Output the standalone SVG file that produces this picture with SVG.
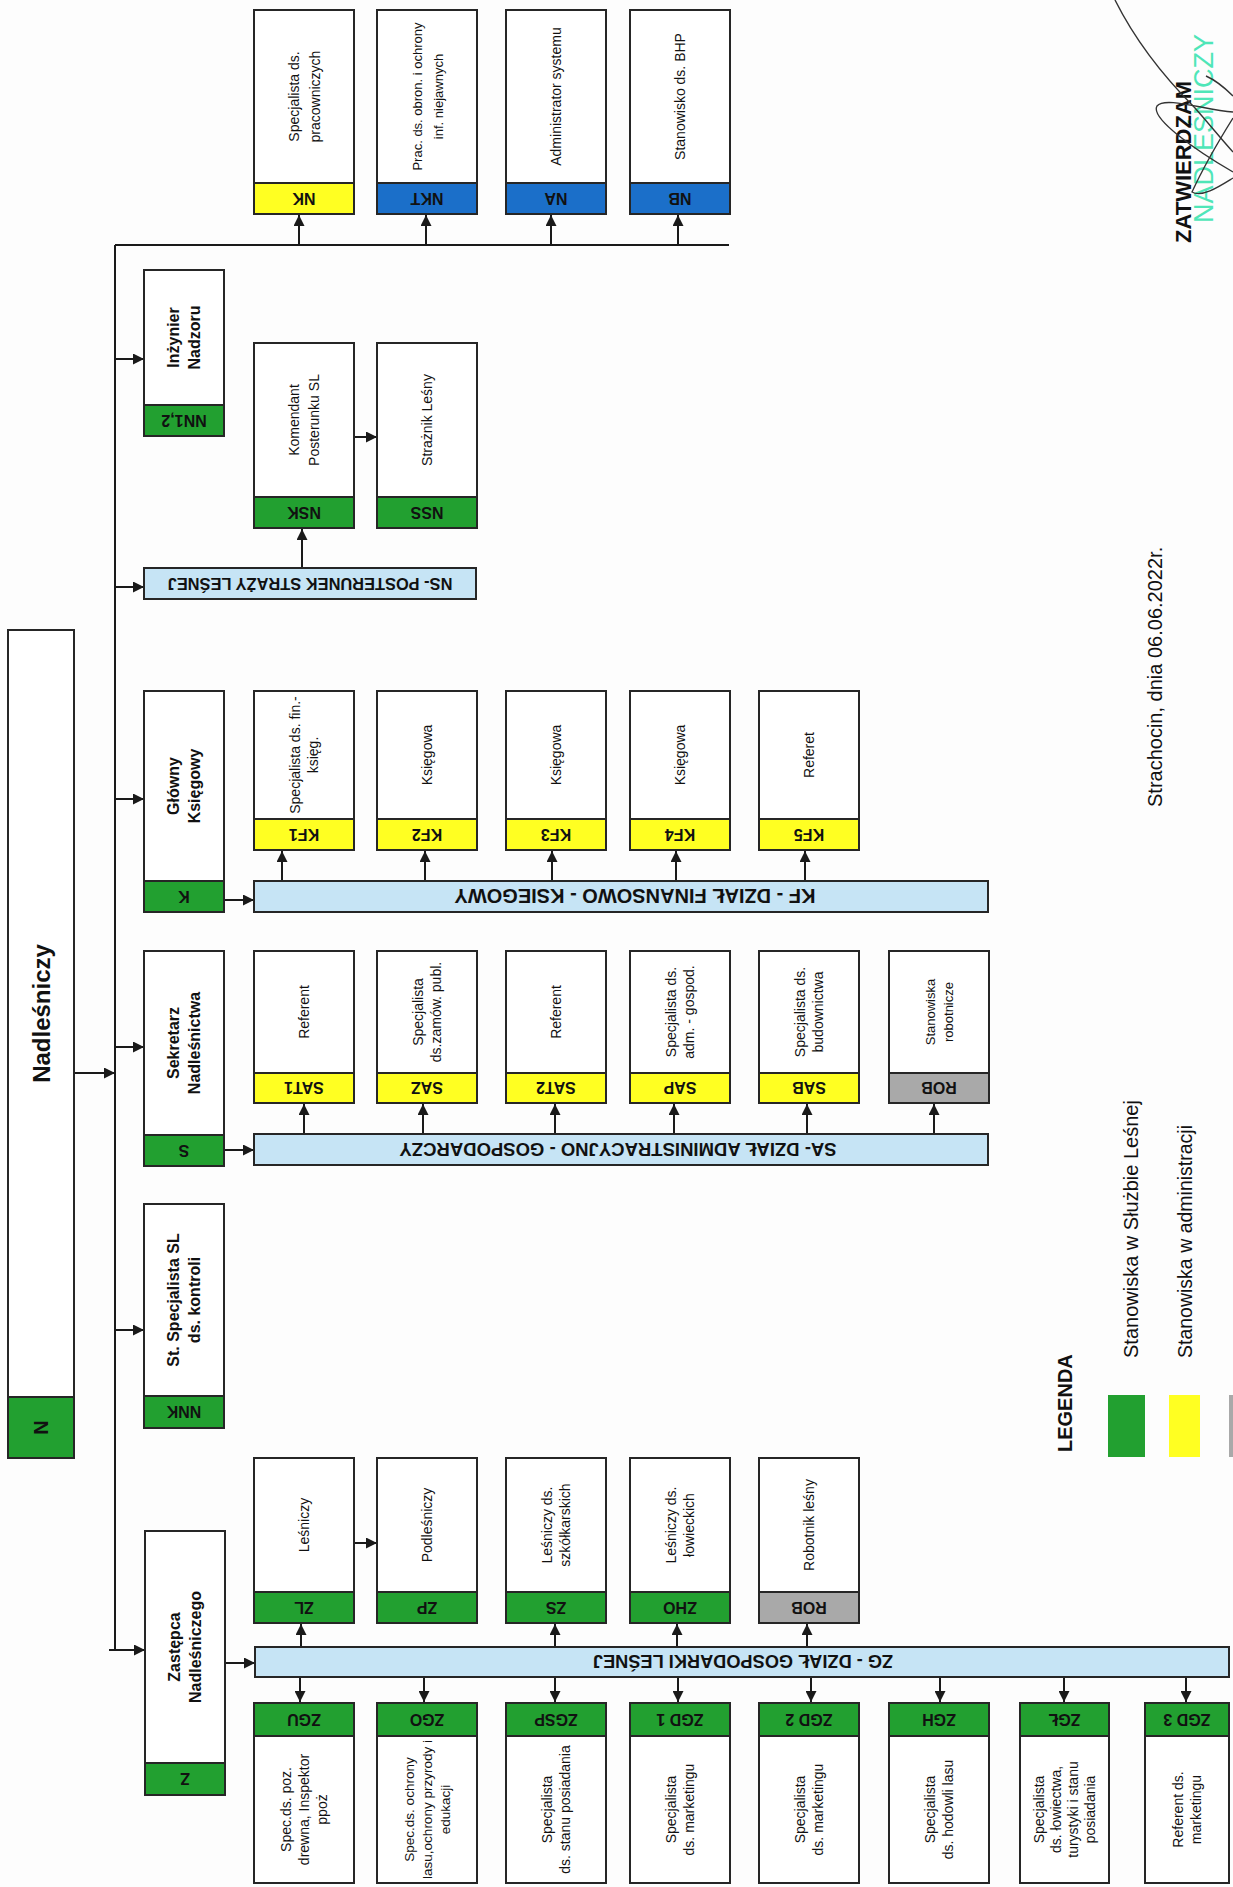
<svg xmlns="http://www.w3.org/2000/svg" width="1233" height="1887" viewBox="0 0 1233 1887">
<style>
text{font-family:"Liberation Sans",Arial,sans-serif;fill:#111}
.t{font-size:14px;text-anchor:middle}
.h{font-size:16px;font-weight:bold;text-anchor:middle}
.c{font-size:16px;font-weight:bold;text-anchor:middle}
.d{font-weight:bold;text-anchor:middle}
.box{fill:#fff;stroke:#262626;stroke-width:2}
.gn{fill:#22a030;stroke:#262626;stroke-width:2}
.yl{fill:#ffff22;stroke:#262626;stroke-width:2}
.bl{fill:#1b6fc9;stroke:#262626;stroke-width:2}
.gr{fill:#a9a9a9;stroke:#262626;stroke-width:2}
.bar{fill:#c6e4f5;stroke:#262626;stroke-width:2}
.ln{stroke:#1a1a1a;stroke-width:2;fill:none}
.ar{stroke:#1a1a1a;stroke-width:2;fill:none;marker-end:url(#ah)}
.sig{stroke:#333;stroke-width:1.4;fill:none}
</style>
<defs>
<marker id="ah" viewBox="0 0 10 10" refX="10" refY="5" markerWidth="11" markerHeight="11" markerUnits="userSpaceOnUse" orient="auto"><path d="M0,0 L10,5 L0,10 z" fill="#1a1a1a"/></marker>
</defs>
<rect x="0" y="0" width="1233" height="1887" fill="#fdfdfd"/>

<g id="connectors">
<path class="ln" d="M115,245 V1650"/>
<path class="ln" d="M115,245 H729"/>
<path class="ar" d="M299,245 V215"/>
<path class="ar" d="M426,245 V215"/>
<path class="ar" d="M551,245 V215"/>
<path class="ar" d="M678,245 V215"/>
<path class="ar" d="M74,1073 H115"/>
<path class="ar" d="M115,359 H144"/>
<path class="ar" d="M115,587 H144"/>
<path class="ar" d="M115,799 H144"/>
<path class="ar" d="M115,1047 H144"/>
<path class="ar" d="M115,1330 H144"/>
<path class="ar" d="M109,1650 H145"/>
<path class="ar" d="M302,568 V529"/>
<path class="ar" d="M354,437 H377"/>
<path class="ar" d="M224,900 H254"/>
<path class="ar" d="M282,881 V851"/>
<path class="ar" d="M425,881 V851"/>
<path class="ar" d="M552,881 V851"/>
<path class="ar" d="M676,881 V851"/>
<path class="ar" d="M805,881 V851"/>
<path class="ar" d="M224,1150 H254"/>
<path class="ar" d="M304,1134 V1104"/>
<path class="ar" d="M423,1134 V1104"/>
<path class="ar" d="M555,1134 V1104"/>
<path class="ar" d="M674,1134 V1104"/>
<path class="ar" d="M807,1134 V1104"/>
<path class="ar" d="M934,1134 V1104"/>
<path class="ar" d="M225,1663 H255"/>
<path class="ar" d="M354,1543 H377"/>
<path class="ar" d="M301,1647 V1624"/>
<path class="ar" d="M555,1647 V1624"/>
<path class="ar" d="M677,1647 V1624"/>
<path class="ar" d="M807,1647 V1624"/>
<path class="ar" d="M300,1677 V1702"/>
<path class="ar" d="M424,1677 V1702"/>
<path class="ar" d="M555,1677 V1702"/>
<path class="ar" d="M678,1677 V1702"/>
<path class="ar" d="M811,1677 V1702"/>
<path class="ar" d="M940,1677 V1702"/>
<path class="ar" d="M1064,1677 V1702"/>
<path class="ar" d="M1186,1677 V1702"/>
</g>

<!-- Nadleśniczy -->
<g id="N">
<rect class="box" x="8" y="630" width="66" height="828"/>
<rect class="gn" x="8" y="1397" width="66" height="61"/>
<text class="d" style="font-size:24px" x="41" y="1022.1" transform="rotate(-90 41 1013.5)">Nadleśniczy</text>
<text class="d" style="font-size:20px" x="41" y="1434.7" transform="rotate(-90 41 1427.5)">N</text>
</g>

<!-- Top row -->
<g id="NK">
<rect class="box" x="254" y="10" width="100" height="204"/>
<rect class="yl" x="254" y="183" width="100" height="31"/>
<text class="c" x="304" y="204.3" transform="rotate(180 304 198.5)">NK</text>
<text class="t" transform="rotate(-90 304 96.5)"><tspan x="304" y="91">Specjalista ds.</tspan><tspan x="304" y="112">pracowniczych</tspan></text>
</g>
<g id="NKT">
<rect class="box" x="377" y="10" width="100" height="204"/>
<rect class="bl" x="377" y="183" width="100" height="31"/>
<text class="c" x="427" y="204.3" transform="rotate(180 427 198.5)">NKT</text>
<text class="t" style="font-size:13px" transform="rotate(-90 427 96.5)"><tspan x="427" y="91">Prac. ds. obron. i ochrony</tspan><tspan x="427" y="112">inf. niejawnych</tspan></text>
</g>
<g id="NA">
<rect class="box" x="506" y="10" width="100" height="204"/>
<rect class="bl" x="506" y="183" width="100" height="31"/>
<text class="c" x="556" y="204.3" transform="rotate(180 556 198.5)">NA</text>
<text class="t" x="556" y="101.5" transform="rotate(-90 556 96.5)">Administrator systemu</text>
</g>
<g id="NB">
<rect class="box" x="630" y="10" width="100" height="204"/>
<rect class="bl" x="630" y="183" width="100" height="31"/>
<text class="c" x="680" y="204.3" transform="rotate(180 680 198.5)">NB</text>
<text class="t" x="680" y="101.5" transform="rotate(-90 680 96.5)">Stanowisko ds. BHP</text>
</g>

<!-- Inżynier Nadzoru -->
<g id="NN">
<rect class="box" x="144" y="270" width="80" height="166"/>
<rect class="gn" x="144" y="405" width="80" height="31"/>
<text class="c" x="184" y="426.3" transform="rotate(180 184 420.5)">NN1,2</text>
<text class="h" transform="rotate(-90 184 337.5)"><tspan x="184" y="332.8">Inżynier</tspan><tspan x="184" y="353.8">Nadzoru</tspan></text>
</g>

<!-- NS -->
<g id="NSK">
<rect class="box" x="254" y="343" width="100" height="185"/>
<rect class="gn" x="254" y="497" width="100" height="31"/>
<text class="c" x="304" y="518.3" transform="rotate(180 304 512.5)">NSK</text>
<text class="t" transform="rotate(-90 304 420)"><tspan x="304" y="415">Komendant</tspan><tspan x="304" y="435">Posterunku SL</tspan></text>
</g>
<g id="NSS">
<rect class="box" x="377" y="343" width="100" height="185"/>
<rect class="gn" x="377" y="497" width="100" height="31"/>
<text class="c" x="427" y="518.3" transform="rotate(180 427 512.5)">NSS</text>
<text class="t" x="427" y="425" transform="rotate(-90 427 420)">Strażnik Leśny</text>
</g>
<g id="NS">
<rect class="bar" x="144" y="568" width="332" height="31"/>
<text class="d" style="font-size:16.4px" x="310" y="589.4" transform="rotate(180 310 583.5)">NS- POSTERUNEK STRAŻY LEŚNEJ</text>
</g>

<!-- K -->
<g id="K">
<rect class="box" x="144" y="691" width="80" height="221"/>
<rect class="gn" x="144" y="881" width="80" height="31"/>
<text class="c" x="184" y="902.3" transform="rotate(180 184 896.5)">K</text>
<text class="h" transform="rotate(-90 184 786)"><tspan x="184" y="781.3">Główny</tspan><tspan x="184" y="802.3">Księgowy</tspan></text>
</g>
<g id="KF1">
<rect class="box" x="254" y="691" width="100" height="159"/>
<rect class="yl" x="254" y="819" width="100" height="31"/>
<text class="c" x="304" y="840.3" transform="rotate(180 304 834.5)">KF1</text>
<text class="t" transform="rotate(-90 304 755)"><tspan x="304" y="751">Specjalista ds. fin.-</tspan><tspan x="304" y="769">księg.</tspan></text>
</g>
<g id="KF2">
<rect class="box" x="377" y="691" width="100" height="159"/>
<rect class="yl" x="377" y="819" width="100" height="31"/>
<text class="c" x="427" y="840.3" transform="rotate(180 427 834.5)">KF2</text>
<text class="t" x="427" y="760" transform="rotate(-90 427 755)">Księgowa</text>
</g>
<g id="KF3">
<rect class="box" x="506" y="691" width="100" height="159"/>
<rect class="yl" x="506" y="819" width="100" height="31"/>
<text class="c" x="556" y="840.3" transform="rotate(180 556 834.5)">KF3</text>
<text class="t" x="556" y="760" transform="rotate(-90 556 755)">Księgowa</text>
</g>
<g id="KF4">
<rect class="box" x="630" y="691" width="100" height="159"/>
<rect class="yl" x="630" y="819" width="100" height="31"/>
<text class="c" x="680" y="840.3" transform="rotate(180 680 834.5)">KF4</text>
<text class="t" x="680" y="760" transform="rotate(-90 680 755)">Księgowa</text>
</g>
<g id="KF5">
<rect class="box" x="759" y="691" width="100" height="159"/>
<rect class="yl" x="759" y="819" width="100" height="31"/>
<text class="c" x="809" y="840.3" transform="rotate(180 809 834.5)">KF5</text>
<text class="t" x="809" y="760" transform="rotate(-90 809 755)">Referet</text>
</g>
<g id="KF">
<rect class="bar" x="254" y="881" width="734" height="31"/>
<text class="d" style="font-size:20px" x="635" y="903.7" transform="rotate(180 635 896.5)">KF - DZIAŁ FINANSOWO - KSIEGOWY</text>
</g>

<!-- S -->
<g id="S">
<rect class="box" x="144" y="951" width="80" height="215"/>
<rect class="gn" x="144" y="1135" width="80" height="31"/>
<text class="c" x="184" y="1156.3" transform="rotate(180 184 1150.5)">S</text>
<text class="h" transform="rotate(-90 184 1043)"><tspan x="184" y="1038.3">Sekretarz</tspan><tspan x="184" y="1059.3">Nadleśnictwa</tspan></text>
</g>
<g id="SAT1">
<rect class="box" x="254" y="951" width="100" height="152"/>
<rect class="yl" x="254" y="1073" width="100" height="30"/>
<text class="c" x="304" y="1093.8" transform="rotate(180 304 1088)">SAT1</text>
<text class="t" x="304" y="1017" transform="rotate(-90 304 1012)">Referent</text>
</g>
<g id="SAZ">
<rect class="box" x="377" y="951" width="100" height="152"/>
<rect class="yl" x="377" y="1073" width="100" height="30"/>
<text class="c" x="427" y="1093.8" transform="rotate(180 427 1088)">SAZ</text>
<text class="t" transform="rotate(-90 427 1012)"><tspan x="427" y="1008">Specjalista</tspan><tspan x="427" y="1026">ds.zamów. publ.</tspan></text>
</g>
<g id="SAT2">
<rect class="box" x="506" y="951" width="100" height="152"/>
<rect class="yl" x="506" y="1073" width="100" height="30"/>
<text class="c" x="556" y="1093.8" transform="rotate(180 556 1088)">SAT2</text>
<text class="t" x="556" y="1017" transform="rotate(-90 556 1012)">Referent</text>
</g>
<g id="SAP">
<rect class="box" x="630" y="951" width="100" height="152"/>
<rect class="yl" x="630" y="1073" width="100" height="30"/>
<text class="c" x="680" y="1093.8" transform="rotate(180 680 1088)">SAP</text>
<text class="t" transform="rotate(-90 680 1012)"><tspan x="680" y="1008">Specjalista ds.</tspan><tspan x="680" y="1026">adm. - gospod.</tspan></text>
</g>
<g id="SAB">
<rect class="box" x="759" y="951" width="100" height="152"/>
<rect class="yl" x="759" y="1073" width="100" height="30"/>
<text class="c" x="809" y="1093.8" transform="rotate(180 809 1088)">SAB</text>
<text class="t" transform="rotate(-90 809 1012)"><tspan x="809" y="1008">Specjalista ds.</tspan><tspan x="809" y="1026">budownictwa</tspan></text>
</g>
<g id="SROB">
<rect class="box" x="889" y="951" width="100" height="152"/>
<rect class="gr" x="889" y="1073" width="100" height="30"/>
<text class="c" x="939" y="1093.8" transform="rotate(180 939 1088)">ROB</text>
<text class="t" style="font-size:13px" transform="rotate(-90 939 1012)"><tspan x="939" y="1008">Stanowiska</tspan><tspan x="939" y="1026">robotnicze</tspan></text>
</g>
<g id="SA">
<rect class="bar" x="254" y="1134" width="734" height="31"/>
<text class="d" style="font-size:18.5px" x="618" y="1156.2" transform="rotate(180 618 1149.5)">SA- DZIAŁ ADMINISTRACYJNO - GOSPODARCZY</text>
</g>

<!-- NNK -->
<g id="NNK">
<rect class="box" x="144" y="1204" width="80" height="224"/>
<rect class="gn" x="144" y="1396" width="80" height="32"/>
<text class="c" x="184" y="1417.8" transform="rotate(180 184 1412)">NNK</text>
<text class="h" transform="rotate(-90 184 1300)"><tspan x="184" y="1295.3">St. Specjalista SL</tspan><tspan x="184" y="1316.3">ds. kontroli</tspan></text>
</g>

<!-- Z -->
<g id="Z">
<rect class="box" x="145" y="1531" width="80" height="264"/>
<rect class="gn" x="145" y="1763" width="80" height="32"/>
<text class="c" x="185" y="1784.8" transform="rotate(180 185 1779)">Z</text>
<text class="h" transform="rotate(-90 185 1647)"><tspan x="185" y="1642.3">Zastępca</tspan><tspan x="185" y="1663.3">Nadleśniczego</tspan></text>
</g>
<g id="ZL">
<rect class="box" x="254" y="1458" width="100" height="165"/>
<rect class="gn" x="254" y="1592" width="100" height="31"/>
<text class="c" x="304" y="1613.3" transform="rotate(180 304 1607.5)">ZL</text>
<text class="t" x="304" y="1530" transform="rotate(-90 304 1525)">Leśniczy</text>
</g>
<g id="ZP">
<rect class="box" x="377" y="1458" width="100" height="165"/>
<rect class="gn" x="377" y="1592" width="100" height="31"/>
<text class="c" x="427" y="1613.3" transform="rotate(180 427 1607.5)">ZP</text>
<text class="t" x="427" y="1530" transform="rotate(-90 427 1525)">Podleśniczy</text>
</g>
<g id="ZS">
<rect class="box" x="506" y="1458" width="100" height="165"/>
<rect class="gn" x="506" y="1592" width="100" height="31"/>
<text class="c" x="556" y="1613.3" transform="rotate(180 556 1607.5)">ZS</text>
<text class="t" transform="rotate(-90 556 1525)"><tspan x="556" y="1521">Leśniczy ds.</tspan><tspan x="556" y="1539">szkółkarskich</tspan></text>
</g>
<g id="ZHO">
<rect class="box" x="630" y="1458" width="100" height="165"/>
<rect class="gn" x="630" y="1592" width="100" height="31"/>
<text class="c" x="680" y="1613.3" transform="rotate(180 680 1607.5)">ZHO</text>
<text class="t" transform="rotate(-90 680 1525)"><tspan x="680" y="1521">Leśniczy ds.</tspan><tspan x="680" y="1539">łowieckich</tspan></text>
</g>
<g id="ZROB">
<rect class="box" x="759" y="1458" width="100" height="165"/>
<rect class="gr" x="759" y="1592" width="100" height="31"/>
<text class="c" x="809" y="1613.3" transform="rotate(180 809 1607.5)">ROB</text>
<text class="t" x="809" y="1530" transform="rotate(-90 809 1525)">Robotnik leśny</text>
</g>
<g id="ZG">
<rect class="bar" x="255" y="1647" width="974" height="30"/>
<text class="d" style="font-size:18.2px" x="743" y="1668.6" transform="rotate(180 743 1662)">ZG  - DZIAŁ GOSPODARKI LEŚNEJ</text>
</g>
<g id="ZGU">
<rect class="box" x="254" y="1703" width="100" height="180"/>
<rect class="gn" x="254" y="1703" width="100" height="33"/>
<text class="c" x="304" y="1725.3" transform="rotate(180 304 1719.5)">ZGU</text>
<text class="t" transform="rotate(-90 304 1809.5)"><tspan x="304" y="1796.5">Spec.ds. poz.</tspan><tspan x="304" y="1814.5">drewna, Inspektor</tspan><tspan x="304" y="1832.5">ppoż</tspan></text>
</g>
<g id="ZGO">
<rect class="box" x="377" y="1703" width="100" height="180"/>
<rect class="gn" x="377" y="1703" width="100" height="33"/>
<text class="c" x="427" y="1725.3" transform="rotate(180 427 1719.5)">ZGO</text>
<text class="t" style="font-size:13.5px" transform="rotate(-90 427 1809.5)"><tspan x="427" y="1796.5">Spec.ds. ochrony</tspan><tspan x="427" y="1814.5">lasu,ochrony przyrody i</tspan><tspan x="427" y="1832.5">edukacji</tspan></text>
</g>
<g id="ZGSP">
<rect class="box" x="506" y="1703" width="100" height="180"/>
<rect class="gn" x="506" y="1703" width="100" height="33"/>
<text class="c" x="556" y="1725.3" transform="rotate(180 556 1719.5)">ZGSP</text>
<text class="t" transform="rotate(-90 556 1809.5)"><tspan x="556" y="1805.5">Specjalista</tspan><tspan x="556" y="1823.5">ds. stanu posiadania</tspan></text>
</g>
<g id="ZGD1">
<rect class="box" x="630" y="1703" width="100" height="180"/>
<rect class="gn" x="630" y="1703" width="100" height="33"/>
<text class="c" x="680" y="1725.3" transform="rotate(180 680 1719.5)">ZGD 1</text>
<text class="t" transform="rotate(-90 680 1809.5)"><tspan x="680" y="1805.5">Specjalista</tspan><tspan x="680" y="1823.5">ds. marketingu</tspan></text>
</g>
<g id="ZGD2">
<rect class="box" x="759" y="1703" width="100" height="180"/>
<rect class="gn" x="759" y="1703" width="100" height="33"/>
<text class="c" x="809" y="1725.3" transform="rotate(180 809 1719.5)">ZGD 2</text>
<text class="t" transform="rotate(-90 809 1809.5)"><tspan x="809" y="1805.5">Specjalista</tspan><tspan x="809" y="1823.5">ds. marketingu</tspan></text>
</g>
<g id="ZGH">
<rect class="box" x="889" y="1703" width="100" height="180"/>
<rect class="gn" x="889" y="1703" width="100" height="33"/>
<text class="c" x="939" y="1725.3" transform="rotate(180 939 1719.5)">ZGH</text>
<text class="t" transform="rotate(-90 939 1809.5)"><tspan x="939" y="1805.5">Specjalista</tspan><tspan x="939" y="1823.5">ds. hodowli lasu</tspan></text>
</g>
<g id="ZGL">
<rect class="box" x="1020" y="1703" width="89" height="180"/>
<rect class="gn" x="1020" y="1703" width="89" height="33"/>
<text class="c" x="1064.5" y="1725.3" transform="rotate(180 1064.5 1719.5)">ZGŁ</text>
<text class="t" transform="rotate(-90 1064.5 1809.5)"><tspan x="1064.5" y="1789">Specjalista</tspan><tspan x="1064.5" y="1806">ds. łowiectwa,</tspan><tspan x="1064.5" y="1823">turystyki i stanu</tspan><tspan x="1064.5" y="1840">posiadania</tspan></text>
</g>
<g id="ZGD3">
<rect class="box" x="1145" y="1703" width="84" height="180"/>
<rect class="gn" x="1145" y="1703" width="84" height="33"/>
<text class="c" x="1187" y="1725.3" transform="rotate(180 1187 1719.5)">ZGD 3</text>
<text class="t" transform="rotate(-90 1187 1809.5)"><tspan x="1187" y="1805.5">Referent ds.</tspan><tspan x="1187" y="1823.5">marketingu</tspan></text>
</g>

<!-- Legend -->
<g id="legend">
<text style="font-size:20px;font-weight:bold" transform="translate(1071.5 1452) rotate(-90)">LEGENDA</text>
<rect x="1108" y="1395" width="37" height="62" fill="#22a030"/>
<rect x="1169" y="1395" width="31" height="62" fill="#ffff22"/>
<rect x="1229" y="1395" width="10" height="62" fill="#a9a9a9"/>
<text style="font-size:20px" transform="translate(1137.5 1358) rotate(-90)">Stanowiska w Służbie Leśnej</text>
<text style="font-size:19.5px" transform="translate(1191.5 1358) rotate(-90)">Stanowiska w administracji</text>
</g>

<g id="date">
<text style="font-size:20px" transform="translate(1161.5 807) rotate(-90)">Strachocin, dnia 06.06.2022r.</text>
</g>

<g id="approval">
<text style="font-size:27px;fill:#4fe6b8" transform="translate(1213 223) rotate(-90)">NADLEŚNICZY</text>
<text style="font-size:22px;font-weight:bold" transform="translate(1190.5 243) rotate(-90)">ZATWIERDZAM</text>
<path class="sig" d="M1115,0 C1135,40 1165,78 1195,108 C1210,125 1222,140 1233,152"/>
<path class="sig" d="M1233,112 C1205,110 1165,96 1157,106 C1150,118 1195,150 1233,172"/>
<path class="sig" d="M1233,118 C1218,142 1203,168 1192,192 C1202,198 1220,186 1233,178"/>
<path class="sig" d="M1206,76 C1215,80 1225,88 1233,96"/>
</g>
</svg>
